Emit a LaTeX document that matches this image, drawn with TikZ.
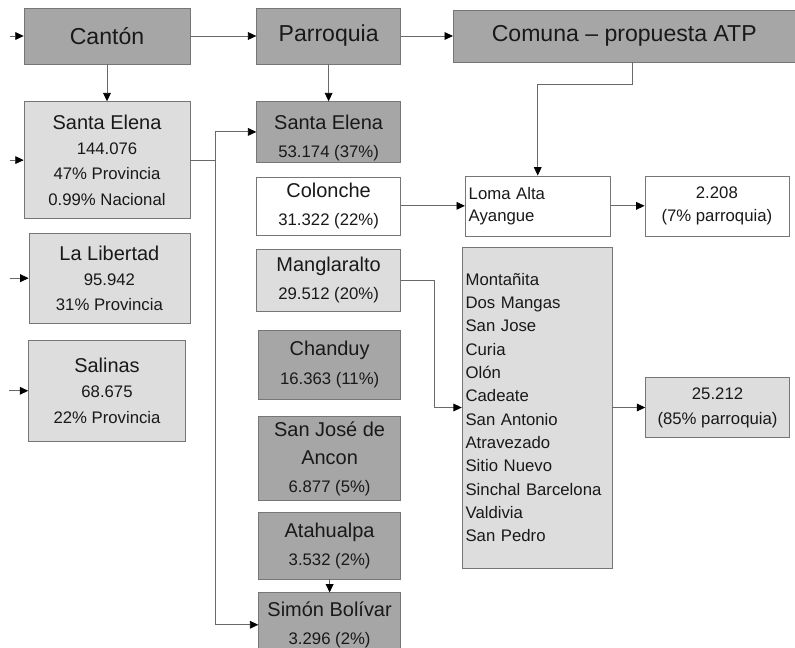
\documentclass[tikz,border=0pt]{standalone}
\usepackage{fontspec}
\setmainfont{Liberation Sans}
\usetikzlibrary{arrows.meta, positioning}
\definecolor{boxdark}{RGB}{166,166,166}
\definecolor{boxlight}{RGB}{221,221,221}
\definecolor{boxedge}{RGB}{118,118,118}
\definecolor{wiregray}{RGB}{105,105,105}
\newcommand{\headfont}{\fontsize{16.4}{20}\selectfont}
\newcommand{\namefont}{\fontsize{14.2}{18}\selectfont}
\tikzstyle{titlebox} = [rectangle, draw=boxedge, fill=boxdark, align=center, minimum height=1.4cm, font=\headfont, text=black!90]
\tikzstyle{cantonbox} = [rectangle, draw=boxedge, fill=boxlight, align=center, inner sep=1pt, font=\fontsize{11.9}{18}\selectfont, text=black!90]
\tikzstyle{parrbox} = [rectangle, draw=boxedge, minimum width=3.6cm, align=center, inner sep=1pt, font=\fontsize{11.9}{20}\selectfont, text=black!90]
\tikzstyle{comunabox} = [rectangle, draw=boxedge, align=left, inner xsep=2.5pt, inner ysep=1pt, text=black!90]
\tikzstyle{sumbox} = [rectangle, draw=boxedge, minimum width=3.6cm, minimum height=1.5cm, align=center, inner sep=1pt, text=black!90]
\tikzstyle{arrow} = [draw=wiregray, line width=0.6pt, -{Triangle[length=6pt, width=5.5pt, color=black]}]
\tikzstyle{wire} = [draw=wiregray, line width=0.6pt]

\begin{document}
\begin{tikzpicture}[x=0.025cm, y=-0.025cm, node distance=0.35cm]
\useasboundingbox (0,0) rectangle (795,648);

% top row
\node[titlebox, minimum width=4.15cm] (canton) at (107,36) {Cantón};
\node[titlebox, minimum width=3.6cm, right=1.65cm of canton] (parroquia) {Parroquia};
\node[titlebox, minimum width=8.55cm, minimum height=1.3cm, right=1.3cm of parroquia] (comuna) {Comuna – propuesta ATP};

% cantones
\node[cantonbox, minimum width=4.15cm, minimum height=2.925cm, below=0.925cm of canton] (seCanton) {{\namefont Santa Elena}\\144.076\\47\% Provincia\\0.99\% Nacional};
\node[cantonbox, minimum width=4.025cm, minimum height=2.25cm, below=of seCanton, xshift=0.06cm] (laLibertad) {{\namefont La Libertad}\\95.942\\31\% Provincia};
\node[cantonbox, minimum width=3.925cm, minimum height=2.5cm, below=0.425cm of laLibertad, xshift=-0.06cm] (salinas) {{\namefont Salinas}\\68.675\\22\% Provincia};

% parroquias
\node[parrbox, fill=boxdark, minimum height=1.475cm, below=0.925cm of parroquia, text height=1.36cm] (seParr) {{\namefont Santa Elena}\\53.174 (37\%)};
\node[parrbox, fill=white, minimum height=1.45cm, below=of seParr] (colonche) {{\namefont Colonche}\\31.322 (22\%)};
\node[parrbox, fill=boxlight, minimum height=1.55cm, below=of colonche] (manglaralto) {{\namefont Manglaralto}\\29.512 (20\%)};
\node[parrbox, fill=boxdark, minimum width=3.55cm, minimum height=1.725cm, below=0.45cm of manglaralto, xshift=0.025cm] (chanduy) {{\namefont Chanduy}\\16.363 (11\%)};
\node[parrbox, fill=boxdark, minimum width=3.55cm, minimum height=2.1cm, below=0.425cm of chanduy] (ancon) {{\namefont San José de}\\{\namefont Ancon}\\6.877 (5\%)};
\node[parrbox, fill=boxdark, minimum width=3.55cm, minimum height=1.675cm, below=0.275cm of ancon] (atahualpa) {{\namefont Atahualpa}\\3.532 (2\%)};
\node[parrbox, fill=boxdark, minimum width=3.55cm, minimum height=1.6cm, below=0.325cm of atahualpa] (bolivar) {{\namefont Simón Bolívar}\\3.296 (2\%)};

% comunas
\node[comunabox, fill=white, text width=3.45cm, minimum height=1.5cm, font=\fontsize{11.9}{15.6}\selectfont, right=1.6cm of colonche] (lomaAlta) {Loma Alta\\Ayangue};
\node[sumbox, fill=white, font=\fontsize{11.9}{16.4}\selectfont, right=0.85cm of lomaAlta] (w2208) {2.208\\(7\% parroquia)};
\node[comunabox, fill=boxlight, text width=3.57cm, minimum height=8.025cm, font=\fontsize{11.9}{16.6}\selectfont] (listBox) at (537,407.5) {Montañita\\Dos Mangas\\San Jose\\Curia\\Olón\\Cadeate\\San Antonio\\Atravezado\\Sitio Nuevo\\Sinchal Barcelona\\Valdivia\\San Pedro};
\node[sumbox, fill=boxlight, font=\fontsize{11.9}{17.8}\selectfont, right=0.825cm of listBox] (w25212) {25.212\\(85\% parroquia)};

% entradas desde la izquierda
\coordinate[left=0.35cm of canton] (inCanton);
\coordinate[left=0.35cm of seCanton] (inSE);
\coordinate[left=0.475cm of laLibertad] (inLL);
\coordinate[left=0.475cm of salinas] (inSal);
\coordinate[right=0.625cm of seCanton] (split);

\draw[arrow] (inCanton) -- (canton);
\draw[arrow] (inSE) -- (seCanton);
\draw[arrow] (inLL) -- (laLibertad);
\draw[arrow] (inSal) -- (salinas);

% flechas del encabezado
\draw[arrow] (canton) -- (parroquia);
\draw[arrow] (parroquia) -- (comuna);
\draw[arrow] (canton) -- (seCanton);
\draw[arrow] (parroquia) -- (seParr);
\draw[arrow] ([xshift=0.2cm]comuna.south) -- ++(0,22) -| (lomaAlta.north);

% canton -> parroquias
\draw[wire] (seCanton) -- (split);
\draw[arrow] (split) |- (seParr);
\draw[arrow] (split) |- (bolivar);
\draw[arrow] (atahualpa) -- (bolivar);

% parroquias -> comunas
\draw[arrow] (colonche) -- (lomaAlta);
\draw[arrow] (lomaAlta) -- (w2208);
\draw[arrow] (manglaralto.east) -- ++(33,0) |- (listBox.west);
\draw[arrow] (listBox) -- (w25212);

\end{tikzpicture}
\end{document}
